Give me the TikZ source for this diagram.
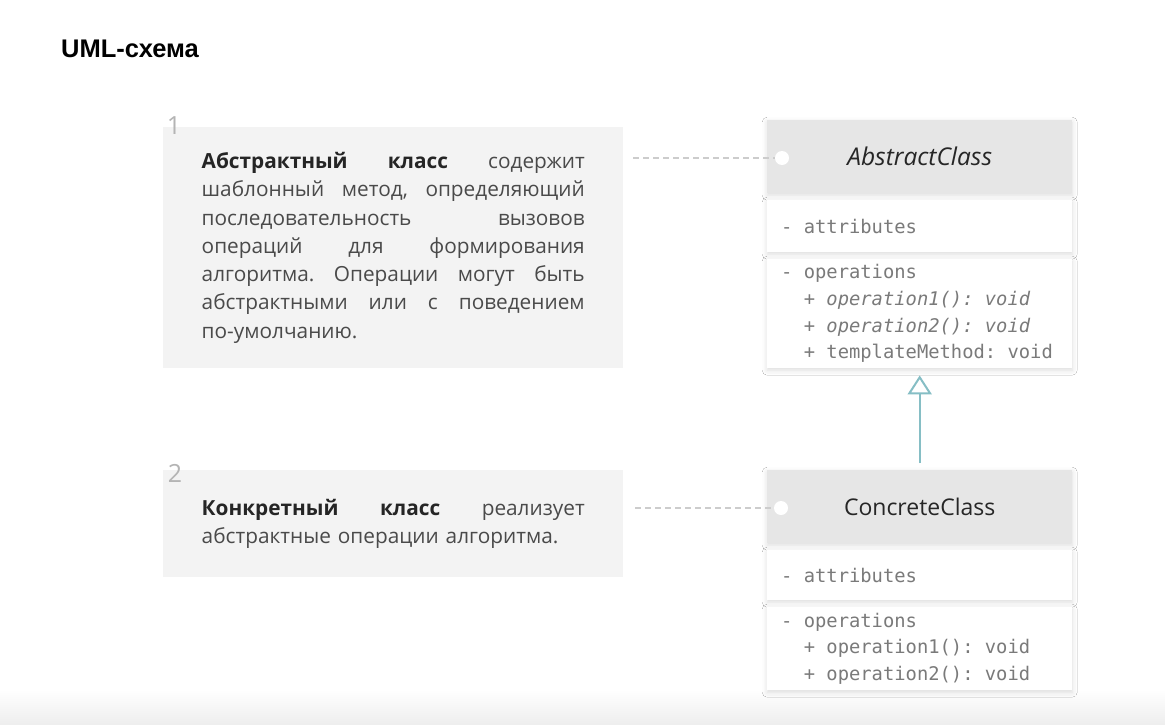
\documentclass[tikz,border=0pt]{standalone}
\usepackage{fontspec}
\setmainfont{Open Sans}
\setmonofont{DejaVu Sans Mono}
\newfontfamily\titlefont{Liberation Sans}
\usetikzlibrary{arrows.meta,shadows.blur}
\definecolor{boxgray}{HTML}{F3F3F3}
\definecolor{hdrgray}{HTML}{E6E6E6}
\definecolor{txtgray}{HTML}{4A4A4A}
\definecolor{boldgray}{HTML}{252525}
\definecolor{monogray}{HTML}{7A7A7A}
\definecolor{numgray}{HTML}{B4B4B4}
\definecolor{dashgray}{HTML}{CCCCCC}
\definecolor{arrowteal}{HTML}{86BEC5}
\tikzset{
  softshadow/.style={blur shadow={shadow xshift=0pt, shadow yshift=-2pt, shadow blur radius=5pt, shadow opacity=14}},
  notebox/.style={fill=boxgray, draw=none, anchor=north west, minimum width=460pt, inner xsep=38.5pt, inner ysep=0pt,
    text width=383pt, align=left, text=txtgray, font=\fontsize{20.8}{28.3}\selectfont},
  numlabel/.style={text=numgray, font=\fontsize{25}{25}\selectfont, inner sep=0pt},
  hdr/.style={fill=hdrgray, draw=none, anchor=north west, minimum width=305pt, minimum height=73pt, inner sep=0pt,
    text=black!85, softshadow},
  comp/.style={fill=white, draw=none, anchor=north west, minimum width=305pt, inner xsep=14pt, inner ysep=0pt,
    text width=277pt, align=left, text=monogray, font=\ttfamily\fontsize{18.8}{26.6}\selectfont, softshadow},
  pin/.style={circle, fill=white, draw=none, minimum size=14pt, inner sep=0pt},
  dashline/.style={draw=dashgray, line width=1.2pt, dash pattern=on 6pt off 4pt},
  inherit/.style={draw=arrowteal, line width=2pt, -{Triangle[open, length=19pt, width=24pt, line width=2pt]}},
}
\newcommand{\bw}[1]{\textcolor{boldgray}{\textbf{#1}}}
\newcommand{\jl}[1]{\leavevmode\hbox to 383pt{#1}}
\newcommand{\ms}{\hspace*{0.602em}}
\begin{document}
\begin{tikzpicture}[x=1pt,y=-1pt]
\useasboundingbox (0,0) rectangle (1165,725);
\fill[white] (0,0) rectangle (1165,725);
\shade[top color=white, bottom color=black!7] (0,690) rectangle (1165,725);

% title
\node[anchor=base west, inner sep=0pt, font=\titlefont\bfseries\fontsize{25.5}{25}\selectfont] (title) at (61,58) {UML-схема};

% note boxes
\node[notebox, minimum height=241pt] (t1) at (163,127) {%
\jl{\bw{Абстрактный}\hfill\bw{класс}\hfill содержит}\\
\jl{шаблонный\hfill метод,\hfill определяющий}\\
\jl{последовательность\hfill вызовов}\\
\jl{операций\hfill для\hfill формирования}\\
\jl{алгоритма.\hfill Операции\hfill могут\hfill быть}\\
\jl{абстрактными\hfill или\hfill с\hfill поведением}\\
по-умолчанию.};
\node[numlabel] (n1) at (174,126) {1};

\node[notebox, minimum height=107pt] (t2) at (163,470) {%
\jl{\bw{Конкретный}\hfill\bw{класс}\hfill реализует}\\
абстрактные операции алгоритма.};
\node[numlabel] (n2) at (175,473) {2};

% Abstract class
\node[hdr, font=\itshape\fontsize{24.5}{26}\selectfont] (ah) at (767,120) {AbstractClass};
\node[comp, minimum height=52pt] (aa) at (767,200) {-\ms attributes};
\node[comp, minimum height=109pt] (ao) at (767,259) {-\ms operations\\
\ms\ms+\ms\textit{operation1():\ms void}\\
\ms\ms+\ms\textit{operation2():\ms void}\\
\ms\ms+\ms templateMethod:\ms void};

% Concrete class
\node[hdr, font=\fontsize{23}{26}\selectfont] (ch) at (767,470) {ConcreteClass};
\node[comp, minimum height=50pt] (ca) at (767,550) {-\ms attributes};
\node[comp, minimum height=83pt] (co) at (767,607) {-\ms operations\\
\ms\ms+\ms operation1():\ms void\\
\ms\ms+\ms operation2():\ms void};

% pins
\node[pin] (c1) at (782,158) {};
\node[pin] (c2) at (781,508) {};

% connectors
\draw[dashline, shorten <=10pt] (t1.east |- c1) -- (c1.west);
\draw[dashline, shorten <=12pt] (t2.east |- c2) -- (c2.west);
\draw[inherit, shorten <=7pt, shorten >=7pt] (ch.north) -- (ao.south);
\end{tikzpicture}
\end{document}
